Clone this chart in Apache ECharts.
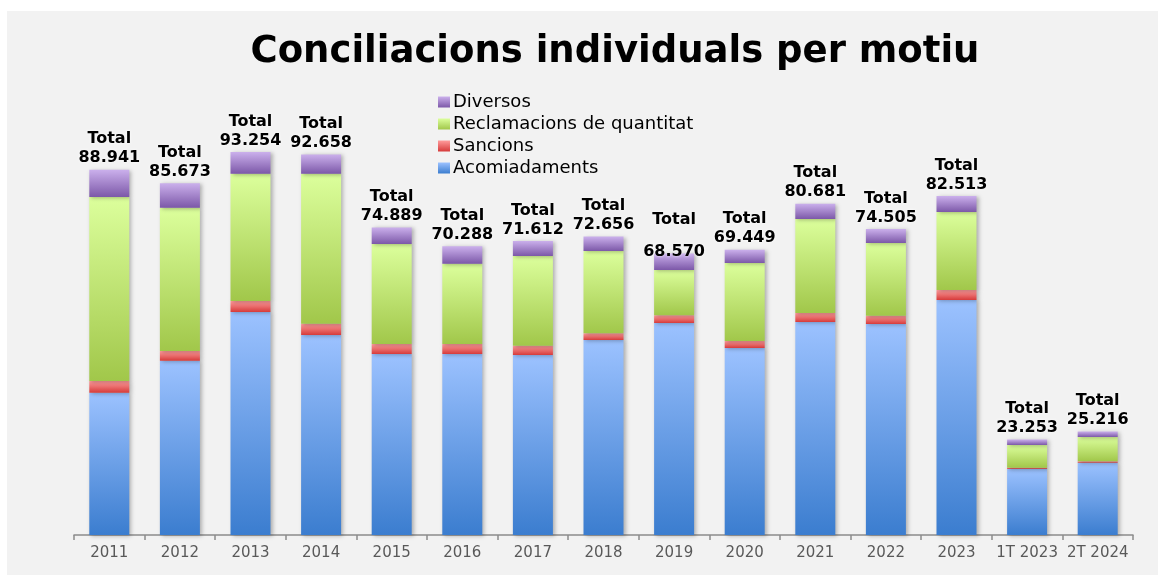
<!DOCTYPE html>
<html>
<head>
<meta charset="utf-8">
<script src="https://cdn.jsdelivr.net/npm/echarts@6/dist/echarts.min.js"></script>
<style>
  html, body { margin: 0; padding: 0; background: #ffffff; }
  #chart { width: 1158px; height: 575px; }
</style>
</head>
<body>
<div id="chart"></div>
<script>
// Conciliacions individuals per motiu (2011 – 2T 2024)
const categories = ['2011', '2012', '2013', '2014', '2015', '2016', '2017', '2018', '2019', '2020', '2021', '2022', '2023', '1T 2023', '2T 2024'];
const totals = [88941, 85673, 93254, 92658, 74889, 70288, 71612, 72656, 68570, 69449, 80681, 74505, 82513, 23253, 25216];
const acomiadaments = [34650, 42440, 54300, 48700, 44070, 44070, 43830, 47480, 51620, 45535, 51865, 51380, 57220, 16070, 17600];
const sancions = [2850, 2360, 2680, 2750, 2435, 2435, 2265, 1630, 1875, 1705, 2190, 2020, 2435, 320, 340];
const reclamacions = [44800, 34890, 31000, 36525, 24350, 19550, 21840, 20040, 11030, 18990, 22890, 17700, 18990, 5530, 5920];
// "Diversos" is the remainder up to each year's total
const diversos = totals.map((t, i) => t - acomiadaments[i] - sancions[i] - reclamacions[i]);

const fmt = n => String(n).replace(/\B(?=(\d{3})+(?!\d))/g, '.');

function grad(top, bottom) {
  return new echarts.graphic.LinearGradient(0, 0, 0, 1, [
    { offset: 0, color: top },
    { offset: 1, color: bottom }
  ]);
}

const barShadow = {
  shadowBlur: 4,
  shadowColor: 'rgba(0,0,0,0.28)',
  shadowOffsetX: 2,
  shadowOffsetY: 1
};

function seriesOf(name, data, top, bottom, extra) {
  return Object.assign({
    name: name,
    type: 'bar',
    stack: 'total',
    barWidth: 40,
    data: data,
    itemStyle: Object.assign({ color: grad(top, bottom) }, barShadow),
    emphasis: { disabled: true }
  }, extra || {});
}

const chart = echarts.init(document.getElementById('chart'), null, { renderer: 'canvas' });

chart.setOption({
  backgroundColor: '#ffffff',
  animation: false,
  graphic: [{
    type: 'rect',
    z: -10,
    silent: true,
    shape: { x: 7, y: 11, width: 1151, height: 564 },
    style: { fill: '#f2f2f2' }
  }],
  title: {
    text: 'Conciliacions individuals per motiu',
    left: 610,
    textAlign: 'center',
    top: 29,
    textStyle: {
      fontFamily: 'DejaVu Sans',
      fontWeight: 'bold',
      fontSize: 37,
      color: '#000000'
    }
  },
  legend: {
    orient: 'vertical',
    left: 433,
    top: 88,
    icon: 'rect',
    itemWidth: 12,
    itemHeight: 11,
    itemGap: 4,
    selectedMode: false,
    data: ['Diversos', 'Reclamacions de quantitat', 'Sancions', 'Acomiadaments'],
    textStyle: {
      fontFamily: 'DejaVu Sans',
      fontSize: 18,
      color: '#000000',
      padding: [0, 0, 0, -2]
    }
  },
  grid: {
    left: 74,
    right: 25,
    top: 124.3,
    bottom: 40
  },
  xAxis: {
    type: 'category',
    data: categories,
    axisLine: { lineStyle: { color: '#8c8c8c', width: 1.5 } },
    axisTick: { show: true, length: 5, lineStyle: { color: '#8c8c8c', width: 1.5 } },
    axisLabel: {
      fontFamily: 'DejaVu Sans',
      fontSize: 15,
      color: '#595959',
      margin: 11,
      interval: 0
    }
  },
  yAxis: {
    type: 'value',
    min: 0,
    max: 100000,
    show: false,
    splitLine: { show: false }
  },
  series: [
    seriesOf('Acomiadaments', acomiadaments, '#9cc2ff', '#3b7dcf'),
    seriesOf('Sancions', sancions, '#ff9c9c', '#d63b3b'),
    seriesOf('Reclamacions de quantitat', reclamacions, '#dcff9c', '#a1c74a'),
    seriesOf('Diversos', diversos.map((v, i) => {
      const item = { value: v };
      if (categories[i] === '2019') {
        // this label sits lower, with a wider gap between its two lines
        item.label = {
          formatter: p => 'Total\n\n' + fmt(totals[p.dataIndex]),
          lineHeight: 16,
          offset: [0, 8]
        };
      }
      return item;
    }), '#cbb0ec', '#7c58a8', {
      label: {
        show: true,
        position: 'top',
        distance: 2,
        formatter: p => 'Total\n' + fmt(totals[p.dataIndex]),
        fontFamily: 'DejaVu Sans',
        fontWeight: 'bold',
        fontSize: 16,
        lineHeight: 19,
        color: '#000000',
        align: 'center',
        textShadowColor: 'rgba(255,255,255,0.9)',
        textShadowBlur: 3
      }
    })
  ]
});
</script>
</body>
</html>
